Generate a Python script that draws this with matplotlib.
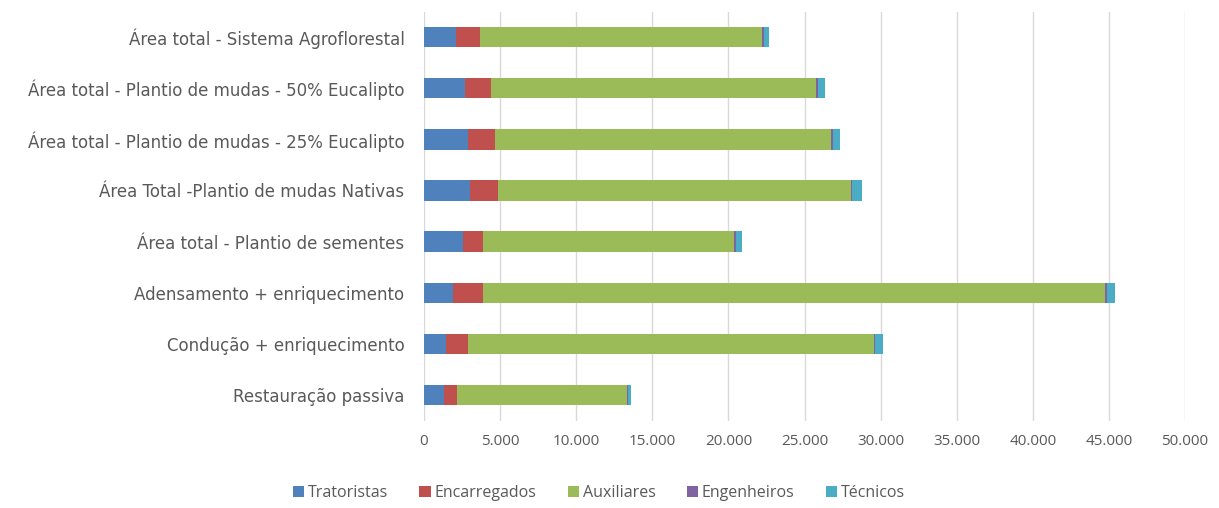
import matplotlib
matplotlib.use("Agg")
import matplotlib.pyplot as plt
import numpy as np
from matplotlib.ticker import FuncFormatter

categories = [
    "Área total - Sistema Agroflorestal",
    "Área total - Plantio de mudas - 50% Eucalipto",
    "Área total - Plantio de mudas - 25% Eucalipto",
    "Área Total -Plantio de mudas Nativas",
    "Área total - Plantio de sementes",
    "Adensamento + enriquecimento",
    "Condução + enriquecimento",
    "Restauração passiva",
]
tratoristas = [2100, 2700, 2910, 3040, 2540, 1930, 1450, 1330]
encarregados = [1580, 1730, 1730, 1790, 1360, 1970, 1420, 870]
auxiliares = [18530, 21330, 22100, 23220, 16490, 40870, 26700, 11130]
engenheiros = [100, 100, 100, 100, 100, 130, 90, 60]
tecnicos = [370, 500, 500, 610, 390, 530, 480, 220]

series = [
    ("Tratoristas", tratoristas, "#4F81BD"),
    ("Encarregados", encarregados, "#C0504D"),
    ("Auxiliares", auxiliares, "#9BBB59"),
    ("Engenheiros", engenheiros, "#8064A2"),
    ("Técnicos", tecnicos, "#4BACC6"),
]

plt.rcParams["font.family"] = ["Open Sans", "DejaVu Sans"]
text_color = "#595959"

fig = plt.figure(figsize=(12.19, 5.08), dpi=100)
ax = fig.add_axes([424 / 1219, 1 - 420.6 / 508, (1185 - 424) / 1219, (420.6 - 11.5) / 508])

y = np.arange(len(categories))
left = np.zeros(len(categories))
for name, vals, color in series:
    vals = np.array(vals, dtype=float)
    ax.barh(y, vals, left=left, height=0.4, color=color, label=name, zorder=3)
    left += vals

ax.set_xlim(0, 50000)
ax.set_ylim(len(categories) - 0.5, -0.5)
ax.set_yticks(y)
ax.set_yticklabels(categories, fontfamily="DejaVu Sans")
ax.set_xticks(np.arange(0, 50001, 5000))
ax.xaxis.set_major_formatter(FuncFormatter(lambda v, p: f"{int(v):,}".replace(",", ".")))
ax.grid(axis="x", color="#D9D9D9", linewidth=1, zorder=0)
for s in ax.spines.values():
    s.set_visible(False)
ax.tick_params(axis="x", length=0, labelsize=11, colors=text_color, pad=10)
ax.tick_params(axis="y", length=0, labelsize=12, colors=text_color, pad=14)

handles, labels = ax.get_legend_handles_labels()
fig.legend(handles, labels, loc="center", bbox_to_anchor=(599 / 1219, 1 - 493 / 508),
           ncol=5, frameon=False, fontsize=11.5, handlelength=0.7, handleheight=0.7,
           handletextpad=0.25, columnspacing=1.95, labelcolor=text_color)

fig.savefig("out.png", dpi=100)
